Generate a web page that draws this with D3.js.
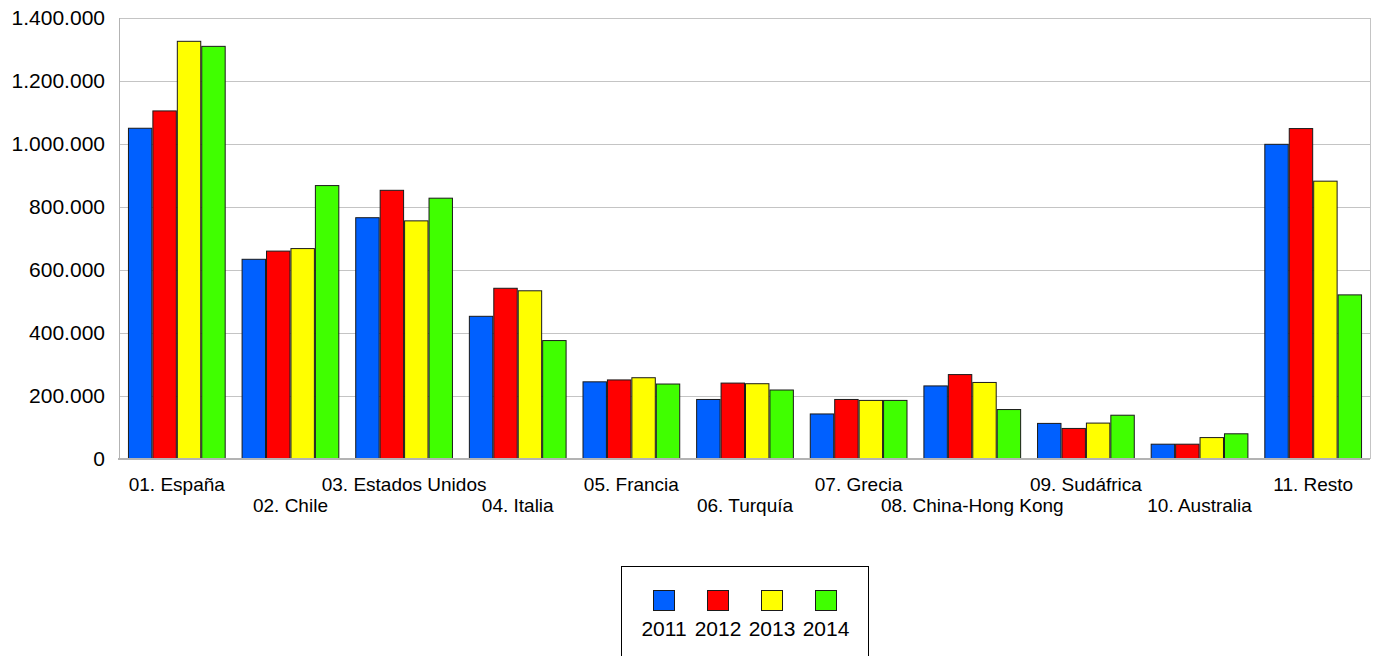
<!DOCTYPE html>
<html lang="es">
<head>
    <meta charset="UTF-8">
    <title>Exportaciones por país</title>
    <style>
        body {
            margin: 0;
            background: #ffffff;
        }
        svg text {
            font-family: 'Liberation Sans', Arial, sans-serif;
            fill: #000000;
        }
    </style>
</head>
<body>
    <div id="chart"></div>

    <script src="https://d3js.org/d3.v7.min.js"></script>
    <script>
        // Data
        const categories = ['01. España', '02. Chile', '03. Estados Unidos', '04. Italia', '05. Francia',
            '06. Turquía', '07. Grecia', '08. China-Hong Kong', '09. Sudáfrica', '10. Australia', '11. Resto'];
        const years = ['2011', '2012', '2013', '2014'];
        const v2011 = [1050000, 634000, 766000, 453000, 245000, 189000, 143000, 232000, 113000, 47000, 999000];
        const v2012 = [1105000, 660000, 853000, 542000, 251000, 241000, 189000, 268000, 97000, 47000, 1049000];
        const v2013 = [1326000, 668000, 756000, 534000, 258000, 239000, 186000, 243000, 114000, 68000, 882000];
        const v2014 = [1310000, 868000, 828000, 376000, 238000, 219000, 186000, 157000, 139000, 80000, 521000];
        const yTicks = [0, 200000, 400000, 600000, 800000, 1000000, 1200000, 1400000];
        const colors = ['#0060ff', '#ff0000', '#ffff00', '#40ff00'];

        const series = [v2011, v2012, v2013, v2014];

        const width = 1376;
        const height = 656;
        const plot = { left: 120, right: 1370, top: 18, bottom: 459 };

        const svg = d3.select('#chart').append('svg')
            .attr('width', width)
            .attr('height', height);

        const x = d3.scaleBand()
            .domain(categories)
            .range([plot.left, plot.right])
            .paddingInner(0.14)
            .paddingOuter(0.07);

        const xYear = d3.scaleBand()
            .domain(years)
            .range([0, x.bandwidth()]);

        const y = d3.scaleLinear()
            .domain([0, 1400000])
            .range([plot.bottom, plot.top]);

        const fmt = d3.formatLocale({ decimal: ',', thousands: '.', grouping: [3], currency: ['', ' €'] }).format(',d');

        // gridlines
        svg.append('g')
            .selectAll('line')
            .data(yTicks.filter(d => d > 0))
            .enter()
            .append('line')
            .attr('x1', plot.left)
            .attr('x2', plot.right)
            .attr('y1', d => Math.round(y(d)) + 0.5)
            .attr('y2', d => Math.round(y(d)) + 0.5)
            .attr('stroke', '#c4c4c4')
            .attr('stroke-width', 1);

        // plot frame sides
        svg.append('line')
            .attr('x1', plot.left - 0.5).attr('x2', plot.left - 0.5)
            .attr('y1', plot.top).attr('y2', plot.bottom)
            .attr('stroke', '#b3b3b3');
        svg.append('line')
            .attr('x1', plot.right + 0.5).attr('x2', plot.right + 0.5)
            .attr('y1', plot.top).attr('y2', plot.bottom)
            .attr('stroke', '#c4c4c4');

        // y axis labels
        const yAxis = d3.axisLeft(y)
            .tickValues(yTicks)
            .tickFormat(fmt)
            .tickSize(0)
            .tickPadding(15);

        svg.append('g')
            .attr('transform', `translate(${plot.left},0)`)
            .call(yAxis)
            .call(g => g.select('.domain').remove())
            .call(g => g.selectAll('text')
                .style('font-size', '21px')
                .style('fill', '#000'));

        // bars
        const groups = svg.append('g')
            .selectAll('g')
            .data(categories)
            .enter()
            .append('g')
            .attr('transform', d => `translate(${x(d)},0)`);

        groups.selectAll('rect')
            .data((c, ci) => years.map((yr, si) => ({ year: yr, si: si, value: series[si][ci] })))
            .enter()
            .append('rect')
            .attr('x', d => xYear(d.year) + 0.5)
            .attr('y', d => y(d.value))
            .attr('width', xYear.bandwidth() - 1)
            .attr('height', d => plot.bottom - y(d.value))
            .attr('fill', d => colors[d.si])
            .attr('stroke', '#1a1a1a')
            .attr('stroke-width', 1);

        // baseline
        svg.append('line')
            .attr('x1', plot.left - 2)
            .attr('x2', plot.right)
            .attr('y1', plot.bottom)
            .attr('y2', plot.bottom)
            .attr('stroke', '#b3b3b3')
            .attr('stroke-width', 2);

        // x labels, staggered on two rows
        svg.append('g')
            .selectAll('text')
            .data(categories)
            .enter()
            .append('text')
            .attr('x', d => x(d) + x.bandwidth() / 2)
            .attr('y', (d, i) => i % 2 === 0 ? 491 : 512)
            .attr('text-anchor', 'middle')
            .style('font-size', '19px')
            .text(d => d);

        // legend
        const legend = svg.append('g');
        legend.append('rect')
            .attr('x', 621.5)
            .attr('y', 566.5)
            .attr('width', 247)
            .attr('height', 120)
            .attr('fill', '#fff')
            .attr('stroke', '#000')
            .attr('stroke-width', 1);

        const lx = d3.scalePoint()
            .domain(years)
            .range([664, 826]);

        const items = legend.selectAll('g.item')
            .data(years)
            .enter()
            .append('g')
            .attr('class', 'item');

        items.append('rect')
            .attr('x', d => lx(d) - 10.5)
            .attr('y', 590.5)
            .attr('width', 21)
            .attr('height', 20)
            .attr('fill', (d, i) => colors[i])
            .attr('stroke', '#1a1a1a')
            .attr('stroke-width', 1);

        items.append('text')
            .attr('x', d => lx(d))
            .attr('y', 636)
            .attr('text-anchor', 'middle')
            .style('font-size', '21px')
            .text(d => d);
    </script>
</body>
</html>
